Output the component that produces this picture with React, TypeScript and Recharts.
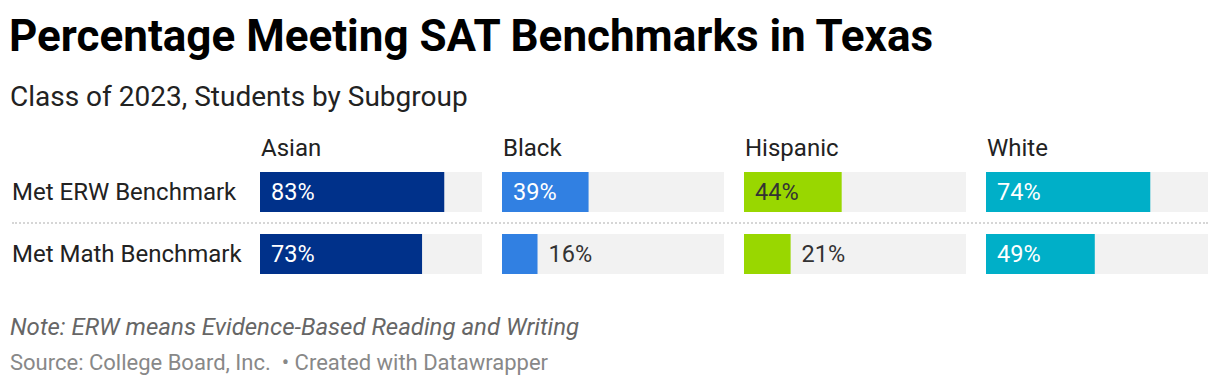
import { BarChart, Bar, XAxis, YAxis, LabelList } from "recharts";

const rows = ["Met ERW Benchmark", "Met Math Benchmark"];
const groups = ["Asian", "Black", "Hispanic", "White"];
const asian = [83, 73];
const black = [39, 16];
const hispanic = [44, 21];
const white = [74, 49];

const series = [asian, black, hispanic, white];
const colors = ["#00318a", "#3180e2", "#99d700", "#00afc8"];
const insideText = ["#ffffff", "#ffffff", "#333333", "#ffffff"];

const FONT = "Roboto, 'Noto Sans', sans-serif";
const COL_X = [260, 502, 744, 986];
const COL_W = 222;
const LABEL_W = 248;

function RowTick(props: any) {
  const { y, payload } = props;
  return (
    <text x={0} y={y} dy="0.35em" textAnchor="start" fontSize={24} fill="#222" fontFamily={FONT}>
      {payload.value}
    </text>
  );
}

function makeLabel(inside: string) {
  return (props: any) => {
    const { x, y, width, height, value } = props;
    const fits = width > 60;
    return (
      <text
        x={fits ? x + 11 : x + width + 11}
        y={y + height / 2}
        dy="0.35em"
        fontSize={23.5}
        fontFamily={FONT}
        fill={fits ? inside : "#333"}
      >
        {value}%
      </text>
    );
  };
}

function Column({ idx }: { idx: number }) {
  const data = rows.map((row, i) => ({ row, value: series[idx][i] }));
  const first = idx === 0;
  return (
    <div style={{ position: "absolute", left: first ? 12 : COL_X[idx], top: 161 }}>
      <BarChart
        width={first ? LABEL_W + COL_W : COL_W}
        height={124}
        data={data}
        layout="vertical"
        margin={{ top: 0, right: 0, bottom: 0, left: 0 }}
      >
        <XAxis type="number" domain={[0, 100]} hide />
        <YAxis
          type="category"
          dataKey="row"
          hide={!first}
          width={first ? LABEL_W : 0}
          axisLine={false}
          tickLine={false}
          tick={<RowTick />}
        />
        <Bar
          dataKey="value"
          fill={colors[idx]}
          barSize={40}
          background={{ fill: "#f2f2f2" }}
          isAnimationActive={false}
        >
          <LabelList dataKey="value" content={makeLabel(insideText[idx])} />
        </Bar>
      </BarChart>
    </div>
  );
}

export default function App() {
  return (
    <div
      style={{
        position: "absolute",
        left: 0,
        top: 0,
        width: 1220,
        height: 388,
        background: "#fff",
        fontFamily: FONT,
        overflow: "hidden",
      }}
    >
      <div style={{ position: "absolute", left: 9, top: 11, fontSize: 44, fontWeight: 700, color: "#000", lineHeight: "50px" }}>
        Percentage Meeting SAT Benchmarks in Texas
      </div>
      <div style={{ position: "absolute", left: 10, top: 81, fontSize: 28, color: "#222", lineHeight: "32px" }}>
        Class of 2023, Students by Subgroup
      </div>
      {groups.map((g, i) => (
        <div key={g} style={{ position: "absolute", left: COL_X[i] + 1, top: 133, fontSize: 24, color: "#222", lineHeight: "30px" }}>
          {g}
        </div>
      ))}
      <div style={{ position: "absolute", left: 12, top: 222, width: 1196, borderTop: "2px dotted #d6d6d6" }} />
      {groups.map((g, i) => (
        <Column key={g} idx={i} />
      ))}
      <div style={{ position: "absolute", left: 10, top: 312, fontSize: 24, fontStyle: "italic", color: "#666", lineHeight: "30px" }}>
        Note: ERW means Evidence-Based Reading and Writing
      </div>
      <div style={{ position: "absolute", left: 10, top: 349, fontSize: 22, color: "#888", lineHeight: "28px" }}>
        Source: College Board, Inc.&nbsp; • Created with Datawrapper
      </div>
    </div>
  );
}
